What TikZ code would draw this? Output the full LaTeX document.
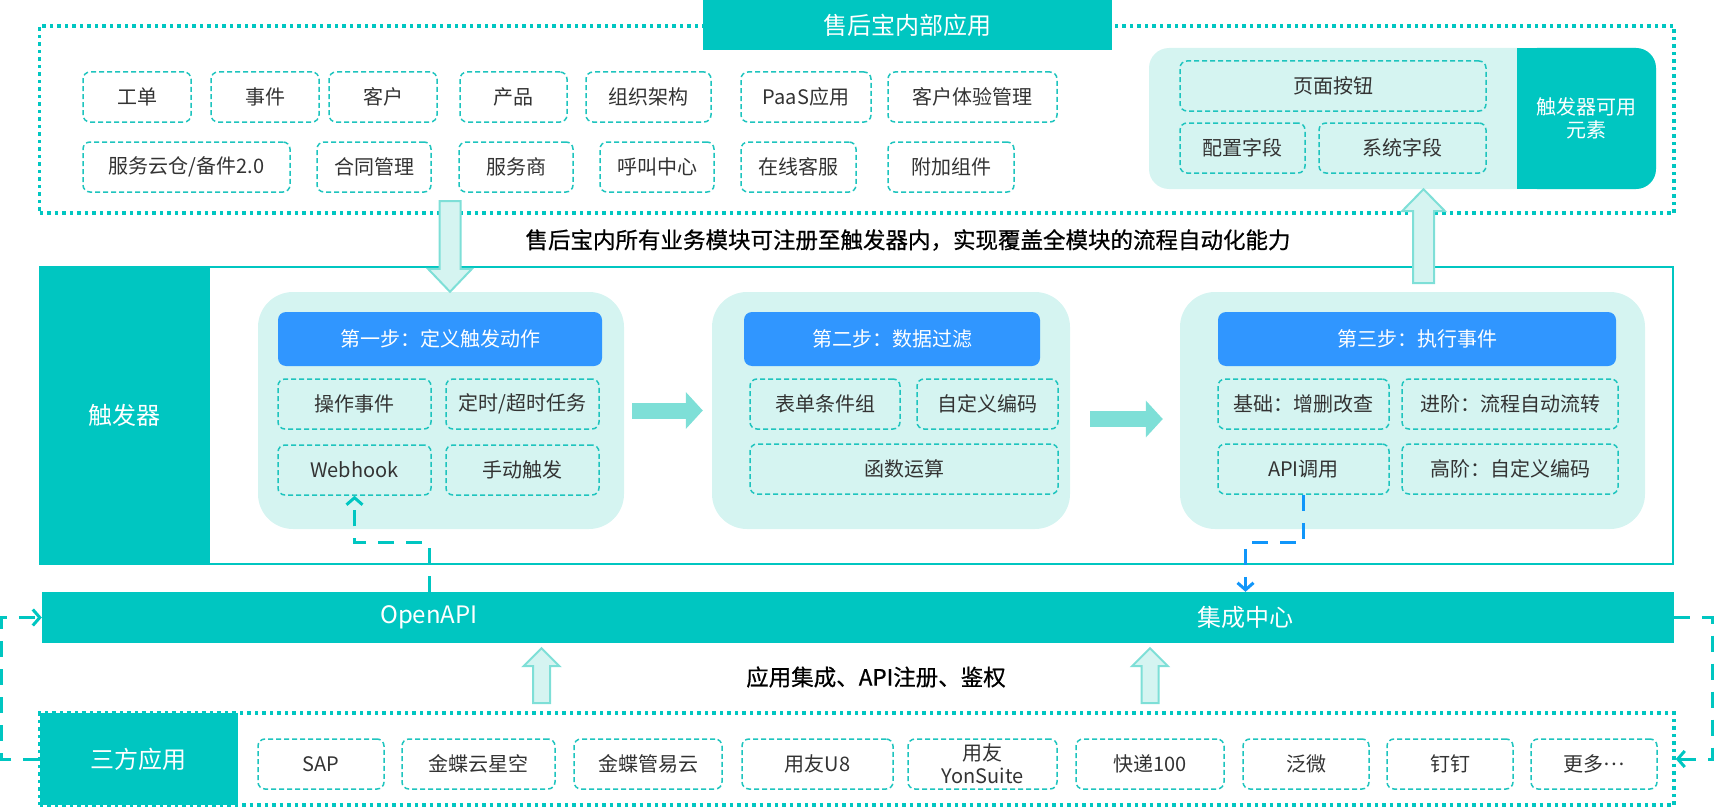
\documentclass[tikz,border=0pt]{standalone}
\usepackage{fontspec}
\setmainfont{Noto Sans CJK SC}
\newfontfamily\medfont{Noto Sans CJK SC}[FakeBold=0.6]
\usetikzlibrary{arrows.meta,calc}
\definecolor{tl}{RGB}{0,198,193}
\definecolor{tllight}{RGB}{213,244,241}
\definecolor{tlarrow}{RGB}{126,223,215}
\definecolor{hdblue}{RGB}{48,150,255}
\definecolor{lnblue}{RGB}{16,150,250}
\definecolor{txt}{RGB}{51,51,51}
\definecolor{dashtl}{RGB}{30,196,190}
\begin{document}
\begin{tikzpicture}[x=1pt,y=-1pt,
  every node/.style={font=\fontsize{20}{24}\selectfont,text=txt,inner sep=0pt},
  dbox/.style={draw=dashtl,line width=1.5pt,dash pattern=on 5pt off 3pt,rounded corners=7pt,minimum height=50pt},
  stepbg/.style={fill=tllight,rounded corners=35pt,minimum height=237pt},
  hdbox/.style={fill=hdblue,rounded corners=8pt,text=white,minimum height=54pt},
  tlpanel/.style={fill=tl,text=white,font=\fontsize{24}{28}\selectfont},
  dotframe/.style={draw=tl,line width=3.5pt,dash pattern=on 3.5pt off 4pt},
  desc/.style={font=\fontsize{22.5}{27}\medfont,text=black},
  fatarrow/.style={fill=tllight,draw=tlarrow,line width=2pt},
  flowarrow/.style={draw=tlarrow,line width=16pt,-{Triangle[length=17pt,width=36pt]}},
  linkline/.style={line width=3pt,dash pattern=on 16pt off 12pt,-{Straight Barb[length=7pt,width=16pt]}}]
\useasboundingbox (0,0) rectangle (1714,808);
% internal modules
\node[dotframe,minimum width=1634.5,minimum height=187] (inapps) at (856.75,119.5) {};
\node[tlpanel,minimum width=409,minimum height=50] (title) at (907.5,25) {售后宝内部应用};
\foreach \cx/\w/\t [count=\i] in {137/108/工单,265/108/事件,383/108/客户,513.5/107/产品,648.5/125/组织架构,806/130/PaaS应用,972.5/169/客户体验管理}
  \node[dbox,fill=white,minimum width=\w] (ma\i) at (\cx,97) {\t};
\foreach \cx/\w/\t [count=\i] in {186.5/207/{服务云仓/备件2.0},374/114/合同管理,516/114/服务商,657/114/呼叫中心,798.5/115/在线客服,951/126/附加组件}
  \node[dbox,fill=white,minimum width=\w] (mb\i) at (\cx,167) {\t};
% trigger elements
\node[fill=tllight,rounded corners=20pt,minimum width=507,minimum height=141] (elem) at (1402.5,118.5) {};
\fill[tl,rounded corners=20pt] (1517,48) rectangle (1656,189);
\fill[tl] (1517,48) rectangle (1560,189);
\node[text=white,align=center,font=\fontsize{20}{23}\selectfont] (elemlbl) at (1586.5,118.5) {触发器可用\\元素};
\node[dbox,minimum width=306] (el1) at (1333,86) {页面按钮};
\node[dbox,minimum width=125] (el2) at (1242.5,148) {配置字段};
\node[dbox,minimum width=167] (el3) at (1402.5,148) {系统字段};
\node[desc] (desc1) at (908,240) {售后宝内所有业务模块可注册至触发器内，实现覆盖全模块的流程自动化能力};
% trigger
\node[draw=tl,line width=2pt,minimum width=1633.5,minimum height=297] (trig) at (856.25,415.5) {};
\node[tlpanel,minimum width=170.5,minimum height=297] (triglbl) at (124.75,415.5) {触发器};
\node[stepbg,minimum width=366] (step1) at (441,410.5) {};
\node[stepbg,minimum width=358] (step2) at (891,410.5) {};
\node[stepbg,minimum width=465] (step3) at (1412.5,410.5) {};
\node[hdbox,minimum width=324] (hd1) at (440,339) {第一步：定义触发动作};
\node[hdbox,minimum width=296] (hd2) at (892,339) {第二步：数据过滤};
\node[hdbox,minimum width=398] (hd3) at (1417,339) {第三步：执行事件};
\node[dbox,minimum width=153] (s1a) at (354.5,404) {操作事件};
\node[dbox,minimum width=153] (s1b) at (522.5,404) {定时/超时任务};
\node[dbox,minimum width=153] (s1c) at (354.5,470) {Webhook};
\node[dbox,minimum width=153] (s1d) at (522.5,470) {手动触发};
\node[dbox,minimum width=150] (s2a) at (825,404) {表单条件组};
\node[dbox,minimum width=141] (s2b) at (987.5,404) {自定义编码};
\node[dbox,minimum width=308] (s2c) at (904,469) {函数运算};
\node[dbox,minimum width=171] (s3a) at (1303.5,404) {基础：增删改查};
\node[dbox,minimum width=216] (s3b) at (1510,404) {进阶：流程自动流转};
\node[dbox,minimum width=171] (s3c) at (1303.5,469) {API调用};
\node[dbox,minimum width=216] (s3d) at (1510,469) {高阶：自定义编码};
\draw[flowarrow] ([xshift=8pt]step1.east) -- ([xshift=-9pt]step2.west);
\draw[flowarrow] ([xshift=20pt,yshift=-8.5pt]step2.east) -- ([xshift=-17pt,yshift=-8.5pt]step3.west);
% integration bar
\node[fill=tl,minimum width=1632,minimum height=51] (bar) at (858,617.5) {};
\node[text=white,font=\fontsize{24}{28}\selectfont] (oapi) at (429,617.5) {OpenAPI};
\node[text=white,font=\fontsize{24}{28}\selectfont] (jczx) at (1245.5,617.5) {集成中心};
\node[desc] (desc2) at (876,677) {应用集成、API注册、鉴权};
% third-party apps
\node[tlpanel,minimum width=198.5,minimum height=92] (sfpanel) at (138.75,759) {三方应用};
\node[dotframe,minimum width=1634.5,minimum height=92] (thirdapps) at (856.75,759) {};
\foreach \cx/\w/\t [count=\i] in {321/126/SAP,478.5/153/金蝶云星空,648/148/金蝶管易云,817.5/151/用友U8,1150/148/快递100,1306/126/泛微,1450/126/钉钉,1594/126/{更多\raisebox{0.3em}{…}}}
  \node[dbox,fill=white,minimum width=\w] (ta\i) at (\cx,764) {\t};
\node[dbox,fill=white,minimum width=149,align=center,font=\fontsize{20}{23}\selectfont] (yonsuite) at (982.5,764) {用友\\YonSuite};
% fat arrows
\coordinate (dnA) at (450,201); \coordinate (dnB) at (dnA |- step1.north);
\draw[fatarrow] ([xshift=-10.5pt]dnA) -- ([xshift=-10.5pt,yshift=23pt]dnB) -- ([xshift=-22pt,yshift=23pt]dnB) -- (dnB) -- ([xshift=22pt,yshift=23pt]dnB) -- ([xshift=10.5pt,yshift=23pt]dnB) -- ([xshift=10.5pt]dnA) -- cycle;
\coordinate (upA) at (1423.5,283); \coordinate (upB) at (upA |- elem.south);
\draw[fatarrow] ([xshift=-10.5pt]upA) -- ([xshift=-10.5pt,yshift=-22pt]upB) -- ([xshift=-21.5pt,yshift=-22pt]upB) -- (upB) -- ([xshift=21.5pt,yshift=-22pt]upB) -- ([xshift=10.5pt,yshift=-22pt]upB) -- ([xshift=10.5pt]upA) -- cycle;
\foreach \cx [count=\i] in {541.5,1150} {
  \coordinate (bA\i) at (\cx,703); \coordinate (bB\i) at ([yshift=-5pt]bar.south -| bA\i);
  \draw[fatarrow] ([xshift=-8.5pt]bA\i) -- ([xshift=-8.5pt,yshift=-18pt]bB\i) -- ([xshift=-18pt,yshift=-18pt]bB\i) -- (bB\i) -- ([xshift=18pt,yshift=-18pt]bB\i) -- ([xshift=8.5pt,yshift=-18pt]bB\i) -- ([xshift=8.5pt]bA\i) -- cycle;}
% dashed links
\draw[linkline,draw=tl] (oapi |- bar.north) -- ++(0,-49) -| (s1c.south);
\draw[linkline,draw=lnblue] (s3c.south) -- ++(0,48) -| (jczx |- bar.north);
\draw[linkline,draw=tl] (sfpanel.west) -- ++(-37.5,0) |- (bar.west);
\draw[linkline,draw=tl] (bar.east) -- ++(38,0) |- (thirdapps.east);
\end{tikzpicture}
\end{document}
